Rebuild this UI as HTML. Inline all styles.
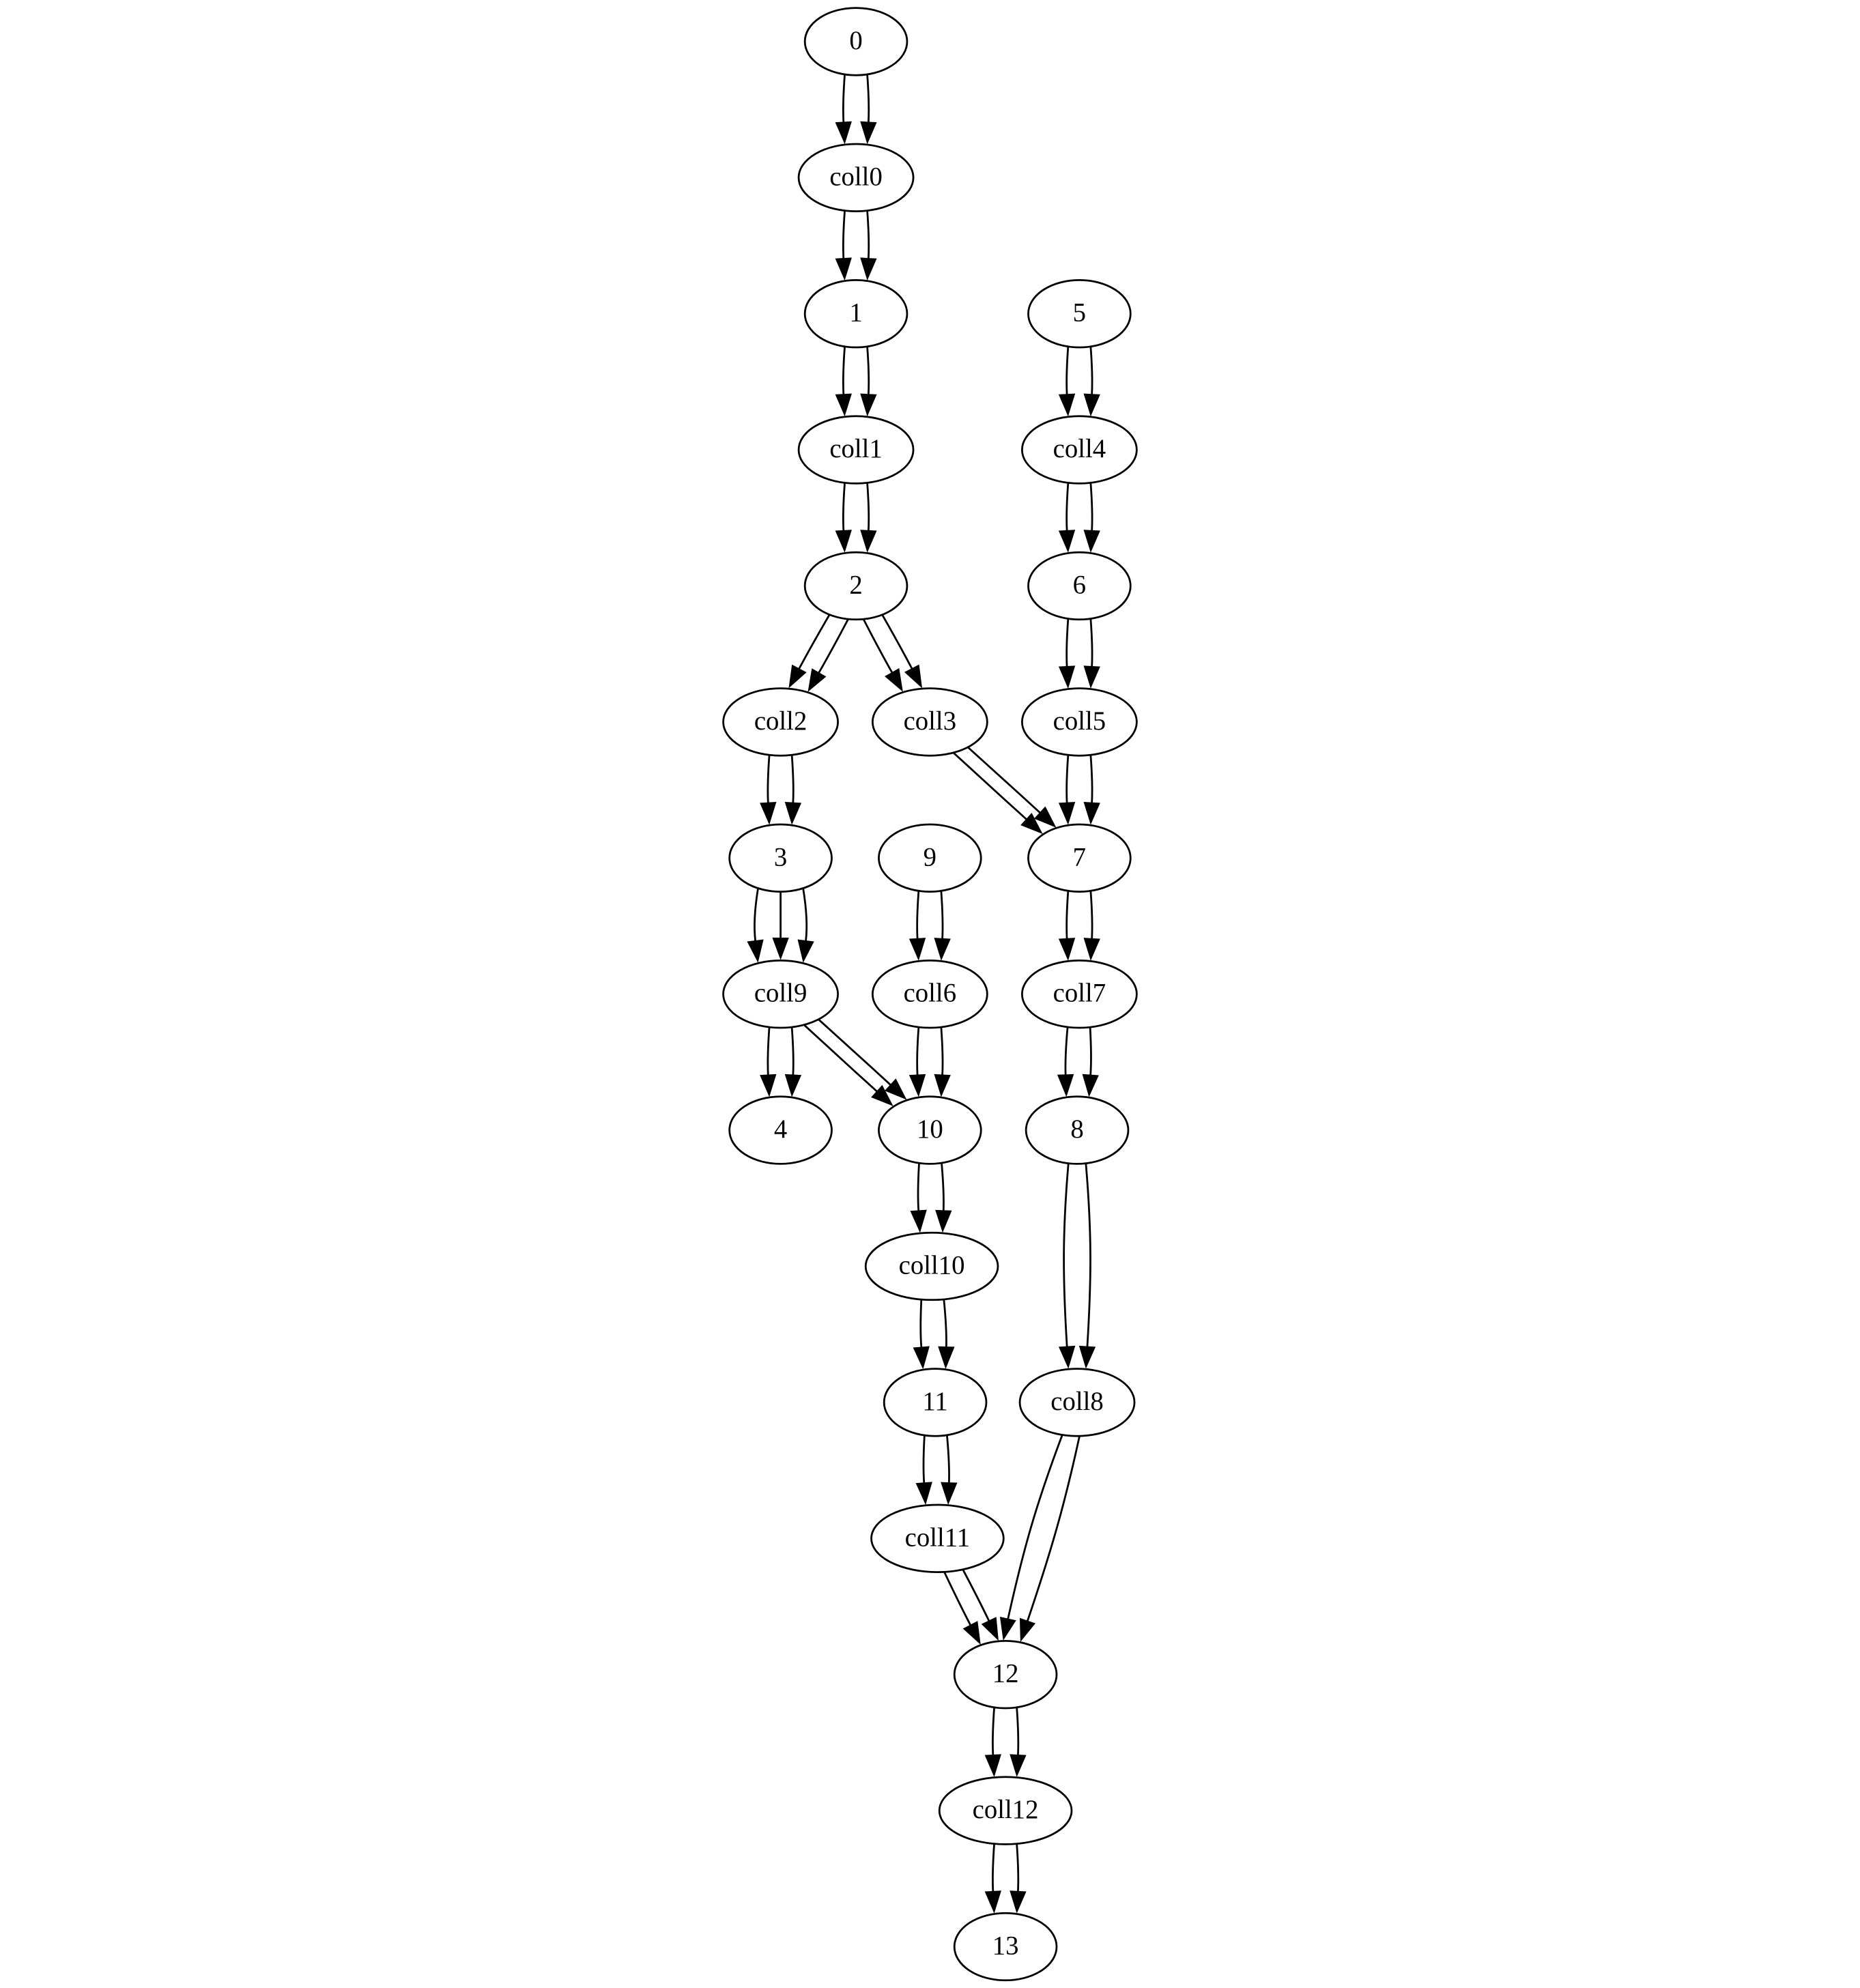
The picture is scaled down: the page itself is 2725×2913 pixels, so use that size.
<!DOCTYPE html>
<html lang="en">
<head>
<meta charset="utf-8">
<title>Collection dependency graph</title>
<style>
  html, body { margin: 0; padding: 0; background: #ffffff; }
  svg { display: block; }
  text { font-family: "Liberation Serif", "Times New Roman", serif; font-size: 38.77px; fill: #000; text-anchor: middle; }
</style>
</head>
<body>
<svg id="graph" xmlns="http://www.w3.org/2000/svg" width="2725" height="2913" viewBox="0 0 2725 2913">
  <rect x="0" y="0" width="2725" height="2913" fill="#ffffff"/>
  <g id="edges"></g>
  <g id="nodes"></g>
</svg>
<script>
// Graph data: node labels, their layout rank and layout column (graph points).
const nodeNames   = ["0","coll0","1","coll1","2","coll2","coll3","3","coll9","4","5","coll4","6","coll5","7","coll7","8","coll8","9","coll6","10","coll10","11","coll11","12","coll12","13"];
const nodeRanks   = [0,1,2,3,4,5,5,6,7,8,2,3,4,5,6,7,8,10,6,7,8,9,10,11,12,13,14];
const nodeColumns = [452.9,452.9,452.9,452.9,452.9,413,492,413,413,413,571.1,571.1,571.1,571.1,571.1,571.1,569.9,569.9,492,492,492,493,494.8,496,532,532,532];

// Edges: source, target and the number of parallel edges.
const edgeSources = ["0","coll0","1","coll1","2","2","coll2","coll3","3","coll9","coll9","5","coll4","6","coll5","7","coll7","8","9","coll6","10","coll10","11","coll11","coll8","12","coll12"];
const edgeTargets = ["coll0","1","coll1","2","coll2","coll3","3","7","coll9","4","10","coll4","6","coll5","7","coll7","8","coll8","coll6","10","coll10","11","coll11","12","12","coll12","13"];
const edgeCounts  = [2,2,2,2,2,2,2,2,3,2,2,2,2,2,2,2,2,2,2,2,2,2,2,2,2,2,2];

// Routing: gap between parallel edges and curvature, per edge group.
const edgeGaps = [33,33,33,33,31,31,33,30,33,33,30,33,33,33,33,33,33,25.6,33,33,33,33,33,29,25.5,33,33];
const edgeBows = [2.5,2.5,2.5,2.5,1,1,2.5,0.5,6,2.5,0.5,2.5,2.5,2.5,2.5,2.5,2.5,8.5,2.5,2.5,2.5,2.5,2.5,1,8,2.5,2.5];
const edgeSags = [0,0,0,0,0,0,0,0,0,0,0,0,0,0,0,0,0,0,0,0,0,0,0,0,-1,0,0];
const edgeAims = [0,0,0,0,0,0,0,0,0,0,0,0,0,0,0,0,0,0,0,0,0,0,0,0,30,0,0];

const SVGNS = "http://www.w3.org/2000/svg";
const POINT = 2.769;
const STROKE = 2.77;
const RY = 49.3;

function xOf(column) { return column * POINT; }
function yOf(rank) { return 60.9 + 199.4 * rank; }
function rxOf(label) { return label.length <= 2 ? 74.9 : (label.length === 5 ? 84 : 96.9); }

const layout = {};
nodeNames.forEach(function (label, i) {
  layout[label] = { x: xOf(nodeColumns[i]), y: yOf(nodeRanks[i]), rx: rxOf(label) };
});

// Intersection of a line starting at horizontal port h with a node's ellipse.
function clip(n, h, dx, dy) {
  const a = dx * dx / (n.rx * n.rx) + dy * dy / (RY * RY);
  const b = 2 * h * dx / (n.rx * n.rx);
  const c = h * h / (n.rx * n.rx) - 1;
  const s = (-b + Math.sqrt(b * b - 4 * a * c)) / (2 * a);
  return [n.x + h + dx * s, n.y + dy * s];
}

const edgeLayer = document.getElementById("edges");
const nodeLayer = document.getElementById("nodes");

edgeSources.forEach(function (source, g) {
  const target = edgeTargets[g];
  const u = layout[source];
  const v = layout[target];
  const count = edgeCounts[g];
  for (let k = 0; k < count; k++) {
    const h = (k - (count - 1) / 2) * edgeGaps[g];
    const dy = v.y - u.y;
    const start = clip(u, h, v.x + edgeAims[g] - u.x, dy);
    const end = clip(v, h, u.x - edgeAims[g] - v.x, -dy);
    const shift = Math.sign(h) * edgeBows[g] + edgeSags[g];
    const c1 = [start[0] + (end[0] - start[0]) * 0.33 + shift, start[1] + (end[1] - start[1]) * 0.33];
    const c2 = [start[0] + (end[0] - start[0]) * 0.55 + shift, start[1] + (end[1] - start[1]) * 0.55];
    const ax = end[0] - c2[0];
    const ay = end[1] - c2[1];
    const len = Math.hypot(ax, ay);
    const ux = ax / len;
    const uy = ay / len;
    const tip = [end[0] - ux * 4.6, end[1] - uy * 4.6];
    const base = [tip[0] - ux * 27.6, tip[1] - uy * 27.6];
    const halfW = 10.2;

    const line = document.createElementNS(SVGNS, "path");
    line.setAttribute("d", "M" + start[0].toFixed(2) + "," + start[1].toFixed(2) +
      " C" + c1[0].toFixed(2) + "," + c1[1].toFixed(2) +
      " " + c2[0].toFixed(2) + "," + c2[1].toFixed(2) +
      " " + base[0].toFixed(2) + "," + base[1].toFixed(2));
    line.setAttribute("fill", "none");
    line.setAttribute("stroke", "#000");
    line.setAttribute("stroke-width", STROKE);
    
    
    edgeLayer.appendChild(line);

    const head = document.createElementNS(SVGNS, "polygon");
    head.setAttribute("points",
      tip[0].toFixed(2) + "," + tip[1].toFixed(2) + " " +
      (base[0] - uy * halfW).toFixed(2) + "," + (base[1] + ux * halfW).toFixed(2) + " " +
      (base[0] + uy * halfW).toFixed(2) + "," + (base[1] - ux * halfW).toFixed(2));
    head.setAttribute("fill", "#000");
    head.setAttribute("stroke", "#000");
    head.setAttribute("stroke-width", STROKE);
    head.setAttribute("stroke-miterlimit", "10");
    
    
    edgeLayer.appendChild(head);
  }
});

nodeNames.forEach(function (label) {
  const n = layout[label];
  const shape = document.createElementNS(SVGNS, "ellipse");
  shape.setAttribute("cx", n.x.toFixed(2));
  shape.setAttribute("cy", n.y.toFixed(2));
  shape.setAttribute("rx", n.rx);
  shape.setAttribute("ry", RY);
  shape.setAttribute("fill", "none");
  shape.setAttribute("stroke", "#000");
  shape.setAttribute("stroke-width", STROKE);
  
  
  nodeLayer.appendChild(shape);

  const text = document.createElementNS(SVGNS, "text");
  text.setAttribute("x", n.x.toFixed(2));
  text.setAttribute("y", (n.y + 11).toFixed(2));
  text.textContent = label;
  
  
  nodeLayer.appendChild(text);
});
</script>
</body>
</html>
